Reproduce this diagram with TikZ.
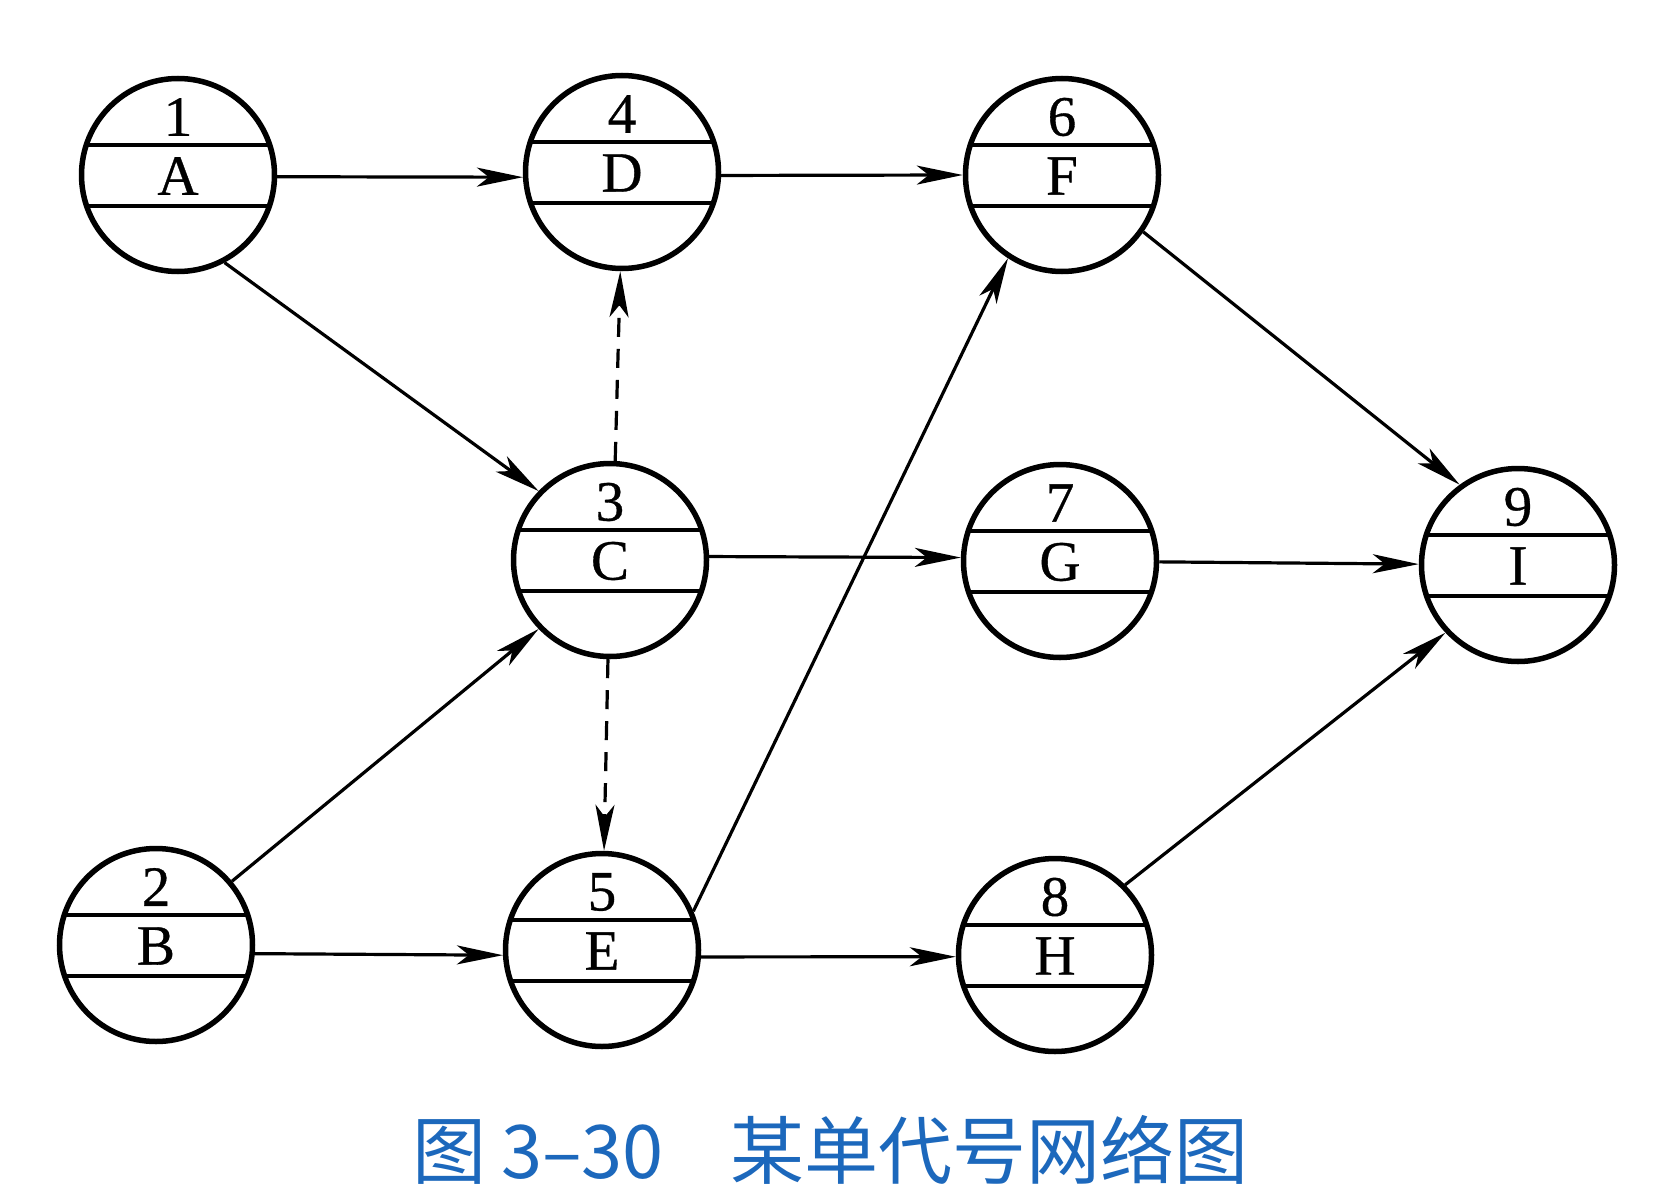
\documentclass[tikz,border=0pt]{standalone}
\usepackage{fontspec}
\setmainfont{Liberation Serif}
\newfontfamily\nodefont[FakeBold=0.6]{Liberation Serif}
\newfontfamily\cjk{Noto Sans CJK SC}
\usetikzlibrary{arrows.meta}
\definecolor{capblue}{RGB}{28,104,188}
\tikzset{
  ev/.style={circle, draw, line width=5.5pt, minimum size=193pt, inner sep=0pt,
    path picture={
      \draw[line width=3.5pt] ([yshift=30pt]path picture bounding box.west) -- ([yshift=30pt]path picture bounding box.east);
      \draw[line width=3.5pt] ([yshift=-31pt]path picture bounding box.west) -- ([yshift=-31pt]path picture bounding box.east);
    }},
  txt/.style={inner sep=0pt, font=\nodefont\fontsize{57}{60}\selectfont},
  arr/.style={line width=3.2pt, -{Stealth[length=46pt, width=19pt, inset=12pt]}},
  darr/.style={arr, dash pattern=on 19pt off 12pt},
}
\newcommand\evnode[5]{%
  \node[ev] (#1) at (#2,#3) {};
  \node[txt] (#1n) at ([yshift=58pt]#1.center) {#4};
  \node[txt] (#1l) at ([yshift=-1pt]#1.center) {#5};
}
\begin{document}
\begin{tikzpicture}[x=1pt, y=-1pt]
\useasboundingbox (0,0) rectangle (1665,1204);
\fill[white] (0,0) rectangle (1665,1204);
\evnode{A}{178}{175}{1}{A}
\evnode{D}{622}{172}{4}{D}
\evnode{F}{1062}{175}{6}{F}
\evnode{C}{610}{560}{3}{C}
\evnode{G}{1060}{561}{7}{G}
\evnode{I}{1518}{565}{9}{I}
\evnode{B}{156}{945}{2}{B}
\evnode{E}{602}{950}{5}{E}
\evnode{H}{1055}{955}{8}{H}

\draw[arr] (A.-1) -- (D.183);
\draw[arr] (D.-2) -- (F.180);
\draw[arr] (A.-62) -- (C.136);
\draw[arr] (B.40) -- (C.224);
\draw[arr] (B.-5) -- (E.183);
\draw[arr] (E.-4) -- (H.181);
\draw[arr] (C.2) -- (G.178);
\draw[arr] (G) -- (I);
\draw[arr] (E.23) -- (F.237);
\draw[arr] (F.-35) -- (I.126);
\draw[arr] (H.45) -- (I.223);
\draw[darr] (C.87) -- (D.-91);
\draw[darr] (C) -- (E);

\node[anchor=base west, inner sep=0pt, text=capblue, font=\cjk\fontsize{74}{80}\selectfont] (cap) at (412,1178) {图\hspace{15pt}3–30\hspace{66pt}某单代号网络图};
\end{tikzpicture}
\end{document}
